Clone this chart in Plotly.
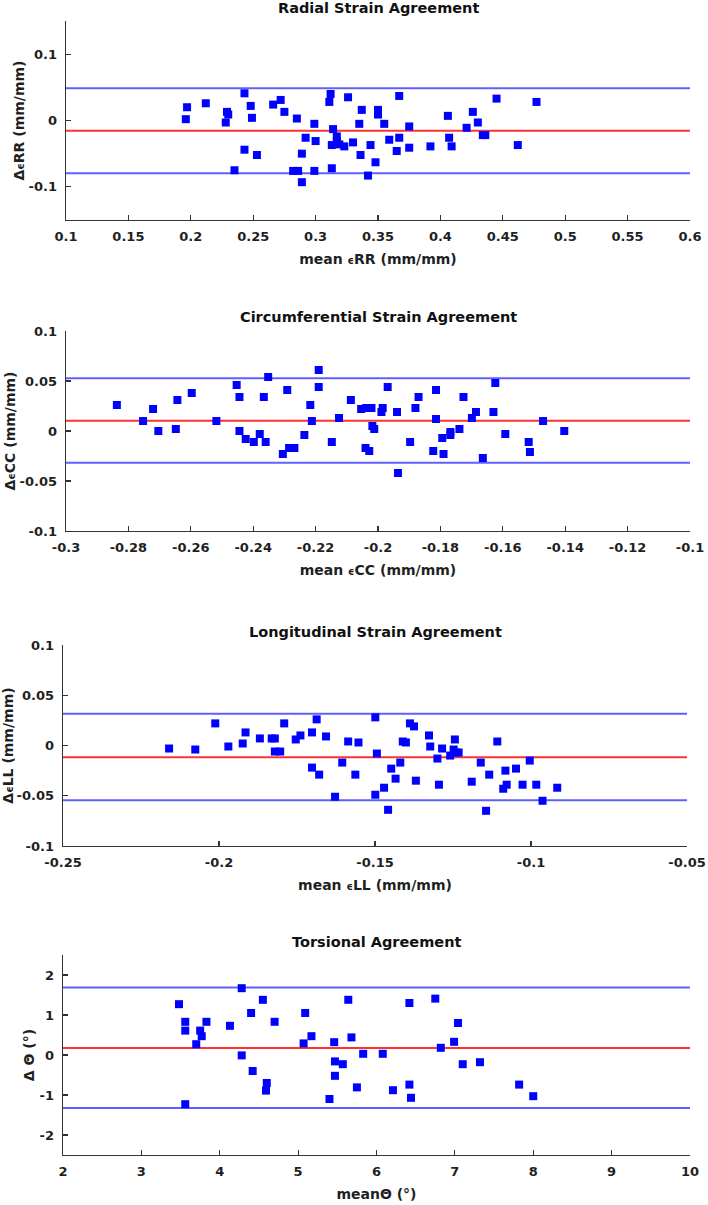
import plotly.graph_objects as go

W, H = 708, 1205

# ---------------- data ----------------
titles = ["Radial Strain Agreement", "Circumferential Strain Agreement",
          "Longitudinal Strain Agreement", "Torsional Agreement"]

rr_mean = [0.196, 0.197, 0.212, 0.229, 0.230, 0.228, 0.243, 0.248, 0.249, 0.243,
           0.253, 0.235, 0.266, 0.272, 0.275, 0.285, 0.299, 0.292, 0.300, 0.289,
           0.282, 0.286, 0.299, 0.289, 0.312, 0.311, 0.314, 0.317, 0.317, 0.313,
           0.319, 0.323, 0.313, 0.326, 0.330, 0.335, 0.337, 0.336, 0.344, 0.342,
           0.350, 0.350, 0.355, 0.348, 0.359, 0.367, 0.367, 0.365, 0.375, 0.375,
           0.392, 0.406, 0.407, 0.409, 0.421, 0.426, 0.430, 0.434, 0.436, 0.445,
           0.462, 0.477]
rr_diff = [0.002, 0.020, 0.026, 0.013, 0.009, -0.003, 0.041, 0.022, 0.004, -0.044,
           -0.052, -0.075, 0.024, 0.031, 0.013, 0.003, -0.005, -0.026, -0.031, -0.050,
           -0.076, -0.076, -0.076, -0.093, 0.040, 0.028, -0.013, -0.024, -0.031, -0.037,
           -0.036, -0.039, -0.072, 0.035, -0.033, -0.005, 0.016, -0.052, -0.037, -0.083,
           0.016, 0.009, -0.005, -0.063, -0.029, -0.026, 0.037, -0.046, -0.009, -0.041,
           -0.039, 0.007, -0.026, -0.039, -0.011, 0.013, -0.003, -0.022, -0.022, 0.033,
           -0.037, 0.028]

cc_mean = [-0.2837, -0.2753, -0.2721, -0.2704, -0.2648, -0.2643, -0.2597, -0.2518, -0.2453, -0.2444,
           -0.2444, -0.2424, -0.2398, -0.2379, -0.2360, -0.2366, -0.2352, -0.2305, -0.2291, -0.2285,
           -0.2268, -0.2236, -0.2217, -0.2212, -0.2190, -0.2190, -0.2148, -0.2125, -0.2087, -0.2054,
           -0.2038, -0.2021, -0.2040, -0.2028, -0.2018, -0.2012, -0.1989, -0.1985, -0.1969, -0.1939,
           -0.1936, -0.1897, -0.1880, -0.1870, -0.1823, -0.1814, -0.1814, -0.1794, -0.1790, -0.1768,
           -0.1768, -0.1739, -0.1726, -0.1699, -0.1686, -0.1664, -0.1630, -0.1624, -0.1592, -0.1517,
           -0.1513, -0.1471, -0.1403]
cc_diff = [0.026, 0.010, 0.022, 0.000, 0.002, 0.031, 0.038, 0.010, 0.046, 0.034,
           0.000, -0.008, -0.011, -0.003, -0.011, 0.034, 0.054, -0.023, 0.041, -0.017,
           -0.017, -0.004, 0.026, 0.010, 0.061, 0.044, -0.011, 0.013, 0.031, 0.022,
           0.023, 0.023, -0.017, -0.020, 0.005, 0.002, 0.019, 0.023, 0.044, 0.019,
           -0.042, -0.011, 0.023, 0.034, -0.020, 0.041, 0.012, -0.007, -0.023, -0.001,
           -0.004, 0.002, 0.034, 0.013, 0.019, -0.027, 0.019, 0.048, -0.003, -0.011,
           -0.021, 0.010, 0.000]

ll_mean = [-0.2160, -0.2076, -0.2012, -0.1970, -0.1924, -0.1915, -0.1869, -0.1831, -0.1821, -0.1821,
           -0.1804, -0.1791, -0.1754, -0.1739, -0.1702, -0.1687, -0.1702, -0.1679, -0.1657, -0.1628,
           -0.1605, -0.1586, -0.1563, -0.1553, -0.1499, -0.1494, -0.1499, -0.1471, -0.1458, -0.1448,
           -0.1434, -0.1419, -0.1411, -0.1401, -0.1388, -0.1375, -0.1369, -0.1327, -0.1323, -0.1300,
           -0.1295, -0.1285, -0.1259, -0.1248, -0.1244, -0.1241, -0.1232, -0.1190, -0.1161, -0.1144,
           -0.1134, -0.1108, -0.1089, -0.1082, -0.1078, -0.1048, -0.1027, -0.1004, -0.0983, -0.0963,
           -0.0916]
ll_diff = [-0.003, -0.004, 0.022, -0.001, 0.002, 0.013, 0.007, 0.007, 0.007, -0.006,
           -0.006, 0.022, 0.006, 0.010, 0.013, 0.026, -0.022, -0.029, 0.009, -0.051,
           -0.017, 0.004, -0.029, 0.003, 0.028, -0.008, -0.049, -0.042, -0.064, -0.023,
           -0.033, -0.017, 0.004, 0.003, 0.022, 0.019, -0.035, 0.010, -0.001, -0.013,
           -0.039, -0.003, -0.010, -0.004, 0.006, -0.007, -0.007, -0.036, -0.017, -0.065,
           -0.029, 0.004, -0.043, -0.025, -0.039, -0.023, -0.039, -0.015, -0.039, -0.055,
           -0.042]

tor_mean = [3.48, 3.56, 3.56, 3.56, 3.70, 3.75, 3.77, 3.83, 4.13, 4.28,
            4.28, 4.40, 4.42, 4.55, 4.59, 4.60, 4.70, 5.07, 5.09, 5.17,
            5.40, 5.46, 5.47, 5.47, 5.57, 5.64, 5.68, 5.75, 5.83, 6.08,
            6.21, 6.42, 6.42, 6.44, 6.75, 6.82, 6.99, 7.04, 7.10, 7.32,
            7.82, 8.00]
tor_diff = [1.27, 0.83, 0.61, -1.23, 0.27, 0.61, 0.47, 0.83, 0.73, 1.67,
            -0.01, 1.05, -0.40, 1.38, -0.89, -0.70, 0.83, 0.29, 1.05, 0.47,
            -1.10, 0.32, -0.16, -0.52, -0.23, 1.38, 0.44, -0.81, 0.03, 0.03,
            -0.88, 1.30, -0.74, -1.07, 1.41, 0.18, 0.33, 0.80, -0.23, -0.18,
            -0.74, -1.03]

# limits of agreement: [upper, bias, lower]
rr_limits = [0.0486, -0.0155, -0.0797]
cc_limits = [0.0527, 0.0103, -0.0317]
ll_limits = [0.0316, -0.0116, -0.0546]
tor_limits = [1.686, 0.176, -1.325]

rr_xrange = [0.1, 0.6]
rr_yrange = [-0.15, 0.15]
cc_xrange = [-0.3, -0.1]
ll_xrange = [-0.25, -0.05]
strain_yrange = [-0.1, 0.1]
tor_xrange = [2, 10]
tor_yrange = [-2.5, 2.5]

rr_xticks = [0.1, 0.15, 0.2, 0.25, 0.3, 0.35, 0.4, 0.45, 0.5, 0.55, 0.6]
rr_xticktext = ["0.1", "0.15", "0.2", "0.25", "0.3", "0.35", "0.4", "0.45", "0.5", "0.55", "0.6"]
rr_yticks = [-0.1, 0, 0.1]
rr_yticktext = ["-0.1", "0", "0.1"]

cc_xticks = [-0.3, -0.28, -0.26, -0.24, -0.22, -0.2, -0.18, -0.16, -0.14, -0.12, -0.1]
cc_xticktext = ["-0.3", "-0.28", "-0.26", "-0.24", "-0.22", "-0.2", "-0.18", "-0.16", "-0.14", "-0.12", "-0.1"]
strain_yticks = [-0.1, -0.05, 0, 0.05, 0.1]
strain_yticktext = ["-0.1", "-0.05", "0", "0.05", "0.1"]

ll_xticks = [-0.25, -0.2, -0.15, -0.1, -0.05]
ll_xticktext = ["-0.25", "-0.2", "-0.15", "-0.1", "-0.05"]

tor_xticks = [2, 3, 4, 5, 6, 7, 8, 9, 10]
tor_xticktext = ["2", "3", "4", "5", "6", "7", "8", "9", "10"]
tor_yticks = [-2, -1, 0, 1, 2]
tor_yticktext = ["-2", "-1", "0", "1", "2"]

eps = "<span style='font-size:10px'>ϵ</span>"
xlabels = [f"mean {eps}RR (mm/mm)", f"mean {eps}CC (mm/mm)", f"mean {eps}LL (mm/mm)", "meanΘ (°)"]
ylabels = [f"Δ{eps}RR (mm/mm)", f"Δ{eps}CC (mm/mm)", f"Δ{eps}LL (mm/mm)", "Δ Θ (°)"]

panel_data = [
    (rr_mean, rr_diff, rr_limits, rr_xrange, rr_yrange, rr_xticks, rr_xticktext, rr_yticks, rr_yticktext),
    (cc_mean, cc_diff, cc_limits, cc_xrange, strain_yrange, cc_xticks, cc_xticktext, strain_yticks, strain_yticktext),
    (ll_mean, ll_diff, ll_limits, ll_xrange, strain_yrange, ll_xticks, ll_xticktext, strain_yticks, strain_yticktext),
    (tor_mean, tor_diff, tor_limits, tor_xrange, tor_yrange, tor_xticks, tor_xticktext, tor_yticks, tor_yticktext),
]

# ---------------- layout (pixel boxes: left, right, top, bottom; title centre y) ----------------
boxes = [(66, 690, 21, 220), (66, 690, 331, 531), (63, 687, 645, 846), (63, 690, 955, 1155)]
title_y = [8, 317, 632, 942]
ylabel_standoff = [0, 0, 0, 1]

FONT = "DejaVu Sans, Liberation Sans, Arial, sans-serif"
TXT = "#1f1f1f"
BLUE_LINE = "rgb(95,95,255)"
RED_LINE = "rgb(255,50,50)"

fig = go.Figure()
layout = dict(width=W, height=H, margin=dict(l=0, r=0, t=0, b=0),
              paper_bgcolor="white", plot_bgcolor="white", showlegend=False,
              font=dict(family=FONT, size=13, color=TXT, weight="bold"))
annotations = []
shapes = []

for i, (xs, ys, lim, xr, yr, xt, xtt, yt, ytt) in enumerate(panel_data, start=1):
    sfx = "" if i == 1 else str(i)
    l, r, t, b = boxes[i - 1]
    fig.add_trace(go.Scatter(
        x=xs, y=ys, mode="markers",
        marker=dict(symbol="square", size=8, color="#0000FF", line=dict(width=0)),
        xaxis="x" + sfx, yaxis="y" + sfx, hoverinfo="skip"))
    axfont = dict(family=FONT, size=13, color=TXT, weight="bold")
    labfont = dict(family=FONT, size=14, color=TXT, weight="bold")
    layout["xaxis" + sfx] = dict(
        domain=[l / W, r / W], range=xr, anchor="y" + sfx,
        showline=True, linecolor="#333333", linewidth=1.4, mirror=False,
        ticks="inside", ticklen=5, tickwidth=1.2, tickcolor="#333333",
        tickvals=xt, ticktext=xtt, showgrid=False, zeroline=False,
        tickfont=axfont, automargin=False, ticklabelstandoff=4,
        title=dict(text=xlabels[i - 1], font=labfont, standoff=11))
    layout["yaxis" + sfx] = dict(
        domain=[1 - b / H, 1 - t / H], range=yr, anchor="x" + sfx,
        showline=True, linecolor="#333333", linewidth=1.4, mirror=False,
        ticks="inside", ticklen=5, tickwidth=1.2, tickcolor="#333333",
        tickvals=yt, ticktext=ytt, showgrid=False, zeroline=False,
        tickfont=axfont, automargin=False, ticklabelstandoff=5,
        title=dict(text=ylabels[i - 1], font=labfont, standoff=ylabel_standoff[i - 1]))
    for k, val in enumerate(lim):
        color = RED_LINE if k == 1 else BLUE_LINE
        shapes.append(dict(type="line", xref=f"x{sfx} domain", yref="y" + sfx,
                           x0=0, x1=1, y0=val, y1=val, layer="below",
                           line=dict(color=color, width=2)))
    annotations.append(dict(text=titles[i - 1], xref="paper", yref="paper",
                            x=(l + r) / 2 / W, y=1 - title_y[i - 1] / H,
                            xanchor="center", yanchor="middle", showarrow=False,
                            font=dict(family=FONT, size=14.5, color="#111111", weight="bold")))

layout["annotations"] = annotations
layout["shapes"] = shapes
fig.update_layout(**layout)

# remove the browser's default 8px body margin so the figure fills the window exactly
page_css = ("document.body.style.margin='0';"
            "document.documentElement.style.overflow='hidden';"
            "document.body.style.overflow='hidden';")
fig.write_html("out.html", post_script=page_css,
               config={"displayModeBar": False, "staticPlot": True})
